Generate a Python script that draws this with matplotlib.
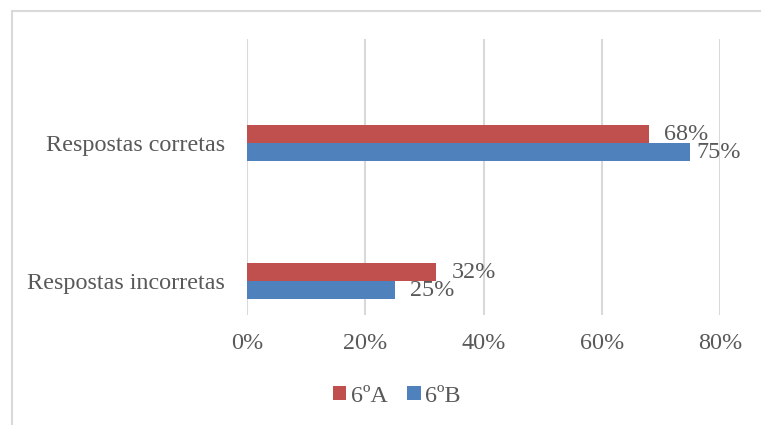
import matplotlib.pyplot as plt
from matplotlib.patches import Rectangle

categorias = ["Respostas incorretas", "Respostas corretas"]
turma_a = [0.32, 0.68]   # 6ºA
turma_b = [0.25, 0.75]   # 6ºB
series = ["6ºA", "6ºB"]
ticks = [0.0, 0.2, 0.4, 0.6, 0.8]

vermelho = "#C0504D"
azul = "#4F81BD"
cinza_txt = "#595959"
cinza_grade = "#D9D9D9"
tam = 17.4

plt.rcParams["font.family"] = ["Liberation Serif", "DejaVu Serif"]

fig = plt.figure(figsize=(7.61, 4.25), dpi=100)
fig.patches.append(Rectangle((12 / 761, -0.1), 1.1, 1 - 11 / 425 + 0.1,
                             transform=fig.transFigure, fill=False,
                             edgecolor=cinza_grade, linewidth=1.5))

ax = fig.add_axes([247 / 761, 1 - 315 / 425, (720 - 247) / 761, (315 - 39) / 425])

altura = 0.13
pos = [0, 1]
barras_a = ax.barh([p + altura / 2 for p in pos], turma_a, height=altura,
                   color=vermelho, label=series[0], zorder=3)
barras_b = ax.barh([p - altura / 2 for p in pos], turma_b, height=altura,
                   color=azul, label=series[1], zorder=3)

# rótulos de valor à direita das barras
for barras, vals, desloc in [(barras_a, turma_a, [11, 11]), (barras_b, turma_b, [11, 4])]:
    for b, v, d in zip(barras, vals, desloc):
        ax.annotate(f"{v:.0%}", (v, b.get_y() + b.get_height() / 2),
                    xytext=(d, 0), textcoords="offset points",
                    va="center", ha="left", fontsize=tam, color=cinza_txt)

ax.set_xlim(0, 0.8)
ax.set_ylim(-0.246, 1.754)
ax.set_xticks(ticks)
ax.set_xticklabels([f"{t:.0%}" for t in ticks])
ax.set_yticks(pos)
ax.set_yticklabels(categorias)
ax.tick_params(axis="both", length=0, labelsize=tam, labelcolor=cinza_txt)
ax.tick_params(axis="x", pad=13)
ax.tick_params(axis="y", pad=16)
ax.grid(axis="x", color=cinza_grade, linewidth=1.5, zorder=0)
ax.set_axisbelow(True)
for s in ax.spines.values():
    s.set_visible(False)

fig.legend(handles=[barras_a, barras_b], labels=series, loc="center",
           bbox_to_anchor=(397 / 761, 1 - 396 / 425), ncol=2, frameon=False,
           fontsize=tam, labelcolor=cinza_txt, handlelength=0.55,
           handleheight=0.55, handletextpad=0.2, columnspacing=0.8)

fig.savefig("out.png", dpi=100)
